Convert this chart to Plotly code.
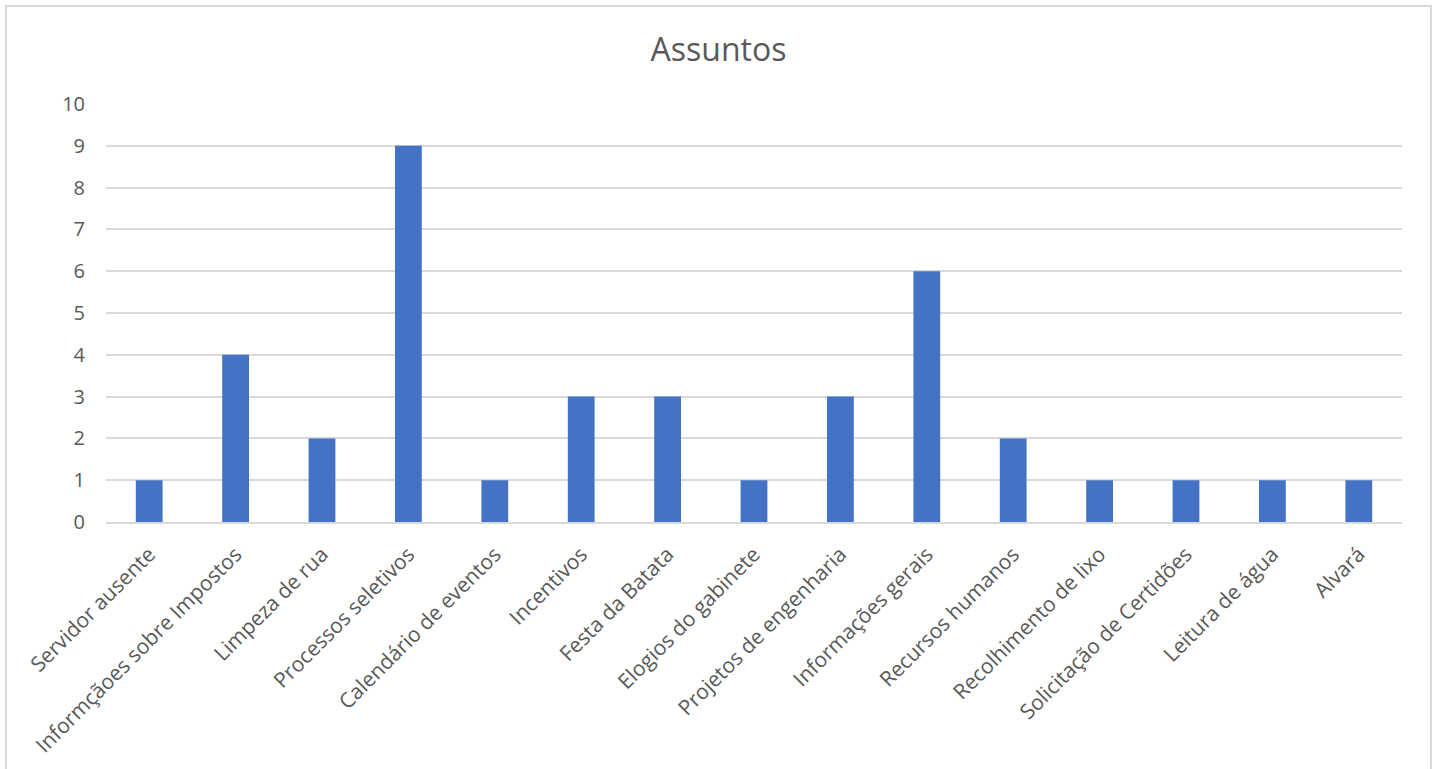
import plotly.graph_objects as go

categories = ["Servidor ausente", "Informçãoes sobre Impostos", "Limpeza de rua",
              "Processos seletivos", "Calendário de eventos", "Incentivos",
              "Festa da Batata", "Elogios do gabinete", "Projetos de engenharia",
              "Informações gerais", "Recursos humanos", "Recolhimento de lixo",
              "Solicitação de Certidões", "Leitura de água", "Alvará"]
values = [1, 4, 2, 9, 1, 3, 3, 1, 3, 6, 2, 1, 1, 1, 1]

W, H = 1437, 769
L, R, T, B = 106, 35, 104, 247
pw, ph = W - L - R, H - T - B

fig = go.Figure(go.Bar(x=categories, y=values, marker_color="#4472C4",
                       marker_line_width=0, width=0.31))

def px2paper_x(x):
    return (x - L) / pw

def px2paper_y(y):
    return (H - B - y) / ph

fig.add_shape(type="rect", xref="paper", yref="paper",
              x0=px2paper_x(6), x1=px2paper_x(1431),
              y0=px2paper_y(790), y1=px2paper_y(6),
              line=dict(color="#d9d9d9", width=2), fillcolor="rgba(0,0,0,0)",
              layer="below")

fig.update_layout(
    width=W, height=H,
    margin=dict(l=L, r=R, t=T, b=B, autoexpand=False),
    paper_bgcolor="white", plot_bgcolor="white",
    font=dict(family="Open Sans, Liberation Sans, sans-serif", color="#595959", size=20),
    title=dict(text="Assuntos", x=0.5, xref="container", xanchor="center",
               y=1 - 50 / H, yanchor="middle",
               font=dict(size=32, color="#595959")),
    showlegend=False,
)
fig.update_yaxes(range=[0, 10], dtick=1, showgrid=True, gridcolor="#d9d9d9",
                 gridwidth=1.5, zeroline=False, showline=False,
                 ticks="", ticklabelstandoff=20, fixedrange=True)
fig.update_xaxes(showline=True, linecolor="#d9d9d9", linewidth=1.5, ticks="",
                 tickangle=-45, ticklabelstandoff=10, showgrid=False,
                 tickfont=dict(size=21))

fig.write_html("out.html")
